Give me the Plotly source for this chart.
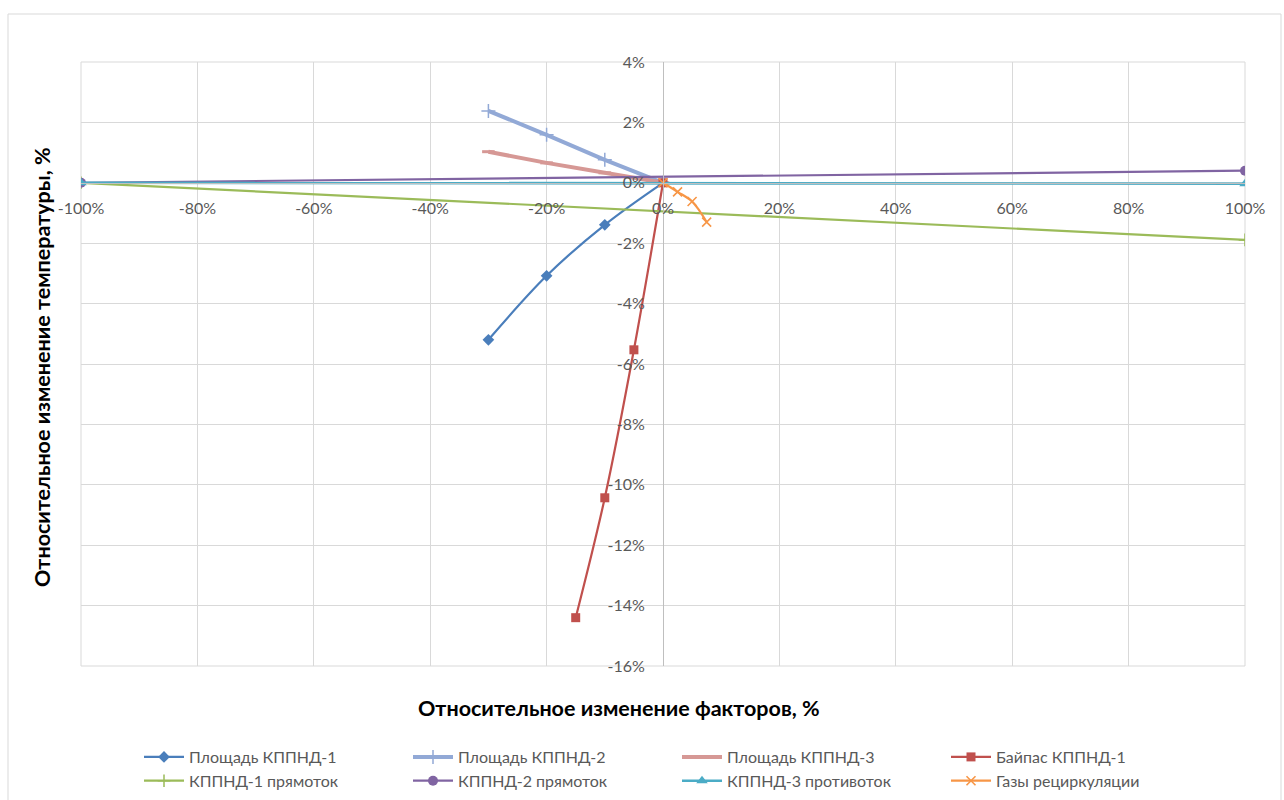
import plotly.graph_objects as go

# Relative change of factors, % (x) and relative temperature change, % (y)
area1_x = [-30, -20, -10, 0]
area1_y = [-5.2, -3.08, -1.39, 0]

area2_x = [-30, -20, -10, 0]
area2_y = [2.38, 1.59, 0.76, 0]

area3_x = [-30, -20, -10, 0]
area3_y = [1.03, 0.66, 0.33, 0]

bypass1_x = [-15, -10, -5, 0]
bypass1_y = [-14.4, -10.43, -5.53, 0]

cocurrent1_x = [-100, 100]
cocurrent1_y = [0, -1.89]

cocurrent2_x = [-100, 100]
cocurrent2_y = [0, 0.4]

counter3_x = [-100, 100]
counter3_y = [0, -0.03]

recirc_x = [0, 2.5, 5, 7.5]
recirc_y = [0, -0.3, -0.62, -1.3]

names = [
    "Площадь КППНД-1", "Площадь КППНД-2", "Площадь КППНД-3", "Байпас КППНД-1",
    "КППНД-1 прямоток", "КППНД-2 прямоток", "КППНД-3 противоток", "Газы рециркуляции",
]

x_ticks = list(range(-100, 101, 20))
y_ticks = list(range(-16, 5, 2))

FONT = "Lato, 'Open Sans', sans-serif"
GREY = "#595959"

# plot-area geometry in pixels
L, R, T, B = 81, 39, 62, 134
PW, PH = 1284 - L - R, 800 - T - B


def px_x(p):
    return (p - L) / PW


def px_y(p):
    return (800 - B - p) / PH


series = [
    (area1_x, area1_y, "#4a7ebb", 2.2, "spline", dict(symbol="diamond", size=9)),
    (area2_x, area2_y, "#92a9d6", 4, "linear",
     dict(symbol="cross-thin", size=10, line=dict(width=1.5, color="#92a9d6"))),
    (area3_x, area3_y, "#d69895", 4, "linear",
     dict(symbol="line-ew", size=9, line=dict(width=3, color="#d69895"))),
    (bypass1_x, bypass1_y, "#c0504d", 2.2, "spline", dict(symbol="square", size=9)),
    (cocurrent1_x, cocurrent1_y, "#9bbb59", 2.2, "linear",
     dict(symbol="cross-thin", size=9, line=dict(width=1.5, color="#9bbb59"))),
    (cocurrent2_x, cocurrent2_y, "#8064a2", 2.2, "linear", dict(symbol="circle", size=10)),
    (counter3_x, counter3_y, "#4bacc6", 2.6, "linear", dict(symbol="triangle-up", size=10)),
    (recirc_x, recirc_y, "#f79646", 2.2, "spline",
     dict(symbol="x-thin", size=9, line=dict(width=1.6, color="#f79646"))),
]

fig = go.Figure()
for (xs, ys, color, width, shape, marker), name in zip(series, names):
    marker = dict(marker)
    marker["color"] = color
    fig.add_trace(go.Scatter(
        x=xs, y=ys, name=name, mode="lines+markers",
        line=dict(color=color, width=width, shape=shape),
        marker=marker,
    ))

fig.update_layout(
    width=1284, height=800,
    margin=dict(l=L, r=R, t=T, b=B, autoexpand=False),
    paper_bgcolor="white", plot_bgcolor="white",
    font=dict(family=FONT, size=15, color=GREY),
    showlegend=True,
    legend=dict(
        orientation="h", x=px_x(139), xanchor="left", y=px_y(740), yanchor="top",
        entrywidth=214, entrywidthmode="pixels",
        font=dict(family=FONT, size=16, color=GREY),
        itemwidth=40, tracegroupgap=0,
    ),
    xaxis=dict(
        range=[-100, 100], tickvals=x_ticks, ticktext=[f"{v}%" for v in x_ticks],
        showgrid=True, gridcolor="#d9d9d9", gridwidth=1,
        zeroline=False, showline=True, linecolor="#bfbfbf", linewidth=1,
        anchor="free", position=0.8, ticks="", ticklabelstandoff=11,
        tickfont=dict(size=16, color=GREY),
    ),
    yaxis=dict(
        range=[-16, 4], tickvals=y_ticks, ticktext=[f"{v}%" for v in y_ticks],
        showgrid=True, gridcolor="#d9d9d9", gridwidth=1,
        zeroline=False, showline=True, linecolor="#bfbfbf", linewidth=1,
        anchor="free", position=0.5, ticks="", ticklabelstandoff=15,
        tickfont=dict(size=16, color=GREY),
    ),
    shapes=[
        # chart outer border
        dict(type="rect", xref="paper", yref="paper",
             x0=px_x(8), x1=px_x(1281), y0=px_y(810), y1=px_y(14),
             line=dict(color="#d9d9d9", width=1), fillcolor="rgba(0,0,0,0)", layer="below"),
        # plot-area frame
        dict(type="rect", xref="paper", yref="paper", x0=0, x1=1, y0=0, y1=1,
             line=dict(color="#d9d9d9", width=1), fillcolor="rgba(0,0,0,0)", layer="below"),
    ],
    annotations=[
        dict(text="<b>Относительное изменение факторов, %</b>", xref="paper", yref="paper",
             x=px_x(619), y=px_y(708), xanchor="center", yanchor="middle",
             showarrow=False, font=dict(family=FONT, size=21.5, color="black")),
        dict(text="<b>Относительное изменение температуры, %</b>", xref="paper", yref="paper",
             x=px_x(42), y=px_y(367), xanchor="center", yanchor="middle",
             textangle=-90, showarrow=False, font=dict(family=FONT, size=21.5, color="black")),
    ],
)

fig.write_html("out.html")
